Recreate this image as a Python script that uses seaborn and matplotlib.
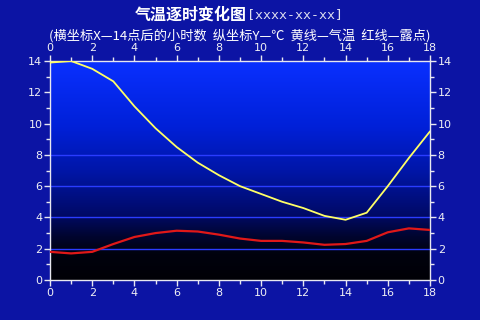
import numpy as np
import pandas as pd
import matplotlib
matplotlib.use("Agg")
import matplotlib.pyplot as plt
from matplotlib.colors import LinearSegmentedColormap
import seaborn as sns

hours = list(range(19))
temperature = [13.9, 14.0, 13.5, 12.7, 11.1, 9.7, 8.5, 7.5, 6.7, 6.0, 5.5, 5.0, 4.6, 4.1, 3.85, 4.3, 6.0, 7.8, 9.5]
dewpoint = [1.8, 1.7, 1.8, 2.3, 2.75, 3.0, 3.15, 3.1, 2.9, 2.65, 2.5, 2.5, 2.4, 2.25, 2.3, 2.5, 3.05, 3.3, 3.2]
title_main = "气温逐时变化图"
title_date = "[xxxx-xx-xx]"
subtitle = "(横坐标X—14点后的小时数  纵坐标Y—℃  黄线—气温  红线—露点)"

df = pd.DataFrame({"hour": hours, "temp": temperature, "dew": dewpoint})

sns.set_theme(style="white")
plt.rcParams['font.family'] = ['Noto Sans CJK SC', 'DejaVu Sans']

fig = plt.figure(figsize=(4.8, 3.2), dpi=100, facecolor="#0c14a4")
ax = fig.add_axes([50/480, 40/320, 380/480, 219/320])
ax.set_facecolor("black")

cmap = LinearSegmentedColormap.from_list(
    "bg", [(0.0, "#000006"), (0.12, "#00020e"), (0.2, "#000530"),
           (0.3, "#000a68"), (0.5, "#0016a8"), (0.7, "#0020d8"), (1.0, "#0a30ff")])
grad = np.linspace(0, 1, 256).reshape(-1, 1)
ax.imshow(grad, cmap=cmap, origin="lower", extent=[0, 18, 0, 14], aspect="auto", zorder=0)

for yv in [2, 4, 6, 8]:
    ax.axhline(yv, color="#2a3cff", lw=1.0, zorder=1)

sns.lineplot(data=df, x="hour", y="temp", ax=ax, color="#ffff66", lw=1.3, zorder=3)
sns.lineplot(data=df, x="hour", y="dew", ax=ax, color="#e01818", lw=1.6, zorder=3)

ax.set_xlim(0, 18)
ax.set_ylim(0, 14)
ax.set_xlabel("")
ax.set_ylabel("")
ax.set_xticks(range(0, 19, 2))
ax.set_xticks(range(0, 19), minor=True)
ax.set_yticks(range(0, 15, 2))
ax.set_yticks(range(0, 15), minor=True)
ax.tick_params(which="both", colors="#e8e8f0", direction="out",
               top=True, bottom=True, left=True, right=True,
               labeltop=True, labelbottom=True, labelleft=True, labelright=True)
ax.tick_params(which="major", length=4, width=1, labelsize=8, pad=1.5, labelcolor="#f0f0f4")
ax.tick_params(which="minor", length=3, width=1)
for lab in ax.get_xticklabels() + ax.get_yticklabels():
    lab.set_family("DejaVu Sans")
for s in ax.spines.values():
    s.set_color("#e8e8f0")
    s.set_linewidth(1)

fig.text(247/480, 1 - 15/320, title_main, ha="right", va="center", color="white",
         fontsize=11.5, fontweight="bold")
fig.text(247/480, 1 - 15/320, title_date, ha="left", va="center", color="#e0e0f0",
         fontsize=9.5, family="DejaVu Sans Mono")
fig.text(0.5, 1 - 36/320, subtitle, ha="center", va="center", color="white", fontsize=9.5)

fig.savefig("out.png", dpi=100, facecolor=fig.get_facecolor())
